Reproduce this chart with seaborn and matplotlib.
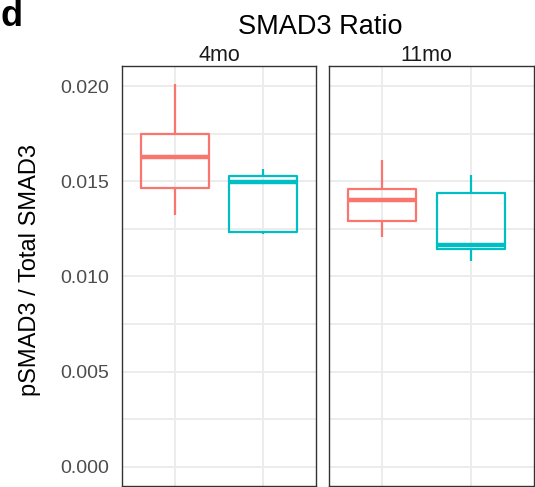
import numpy as np
import pandas as pd
import matplotlib
matplotlib.use("Agg")
import matplotlib.pyplot as plt
import matplotlib.transforms as mtransforms
from matplotlib.ticker import MultipleLocator, FixedLocator
import seaborn as sns

# ---- data (five-number summaries) ----
ages = ["4mo", "11mo"]
genotypes = ["Group 1", "Group 2"]
colors = ["#F8766D", "#00BFC4"]
group1_4mo = [0.01322, 0.01466, 0.01627, 0.01748, 0.02011]
group2_4mo = [0.01224, 0.01234, 0.01497, 0.01525, 0.01562]
group1_11mo = [0.01209, 0.01293, 0.01404, 0.01457, 0.01614]
group2_11mo = [0.01082, 0.01144, 0.01166, 0.01439, 0.01535]
y_ticks = [0.000, 0.005, 0.010, 0.015, 0.020]
y_tick_labels = ["0.000", "0.005", "0.010", "0.015", "0.020"]

values = {
    ("4mo", "Group 1"): group1_4mo,
    ("4mo", "Group 2"): group2_4mo,
    ("11mo", "Group 1"): group1_11mo,
    ("11mo", "Group 2"): group2_11mo,
}
rows = []
for (age, g), vals in values.items():
    for v in vals:
        rows.append({"age": age, "genotype": g, "ratio": v})
df = pd.DataFrame(rows)

sns.set_theme(style="white")
plt.rcParams["font.family"] = ["Liberation Sans", "DejaVu Sans"]

W, H = 535, 487
fig = plt.figure(figsize=(W / 100, H / 100), dpi=100)

def fx(px):
    return px / W

def fy(px):
    return 1 - px / H

panels = [(122, 316), (329, 534)]
top, bottom = 66, 486
xlims = [(-0.6, 1.6), (-0.6, 1.71)]
axes = []
for i, (age, (l, r)) in enumerate(zip(ages, panels)):
    ax = fig.add_axes([fx(l), fy(bottom), fx(r - l), (bottom - top) / H])
    sub = df[df["age"] == age]
    sns.boxplot(data=sub, x="genotype", y="ratio", hue="genotype",
                order=genotypes, hue_order=genotypes, palette=colors,
                saturation=1, fill=False, width=0.77, linewidth=1.6,
                whis=1.5, showcaps=False, showfliers=False, legend=False,
                medianprops={"linewidth": 3.2}, ax=ax)
    ax.set_xlim(*xlims[i])
    ax.set_ylim(-0.001, 0.02105)
    ax.set_xticks([0, 1])
    ax.set_xticklabels([])
    ax.yaxis.set_major_locator(FixedLocator(y_ticks))
    ax.yaxis.set_minor_locator(MultipleLocator(0.0025))
    ax.grid(True, which="major", color="#EBEBEB", linewidth=1.3)
    ax.grid(True, which="minor", axis="y", color="#EBEBEB", linewidth=1.3)
    ax.set_axisbelow(True)
    ax.set_xlabel("")
    ax.set_ylabel("")
    ax.tick_params(axis="both", which="both", length=0)
    if i == 0:
        ax.set_yticklabels(y_tick_labels)
        ax.tick_params(axis="y", labelsize=14, labelcolor="#4D4D4D", pad=9.4)
    else:
        ax.set_yticklabels([])
    for s in ax.spines.values():
        s.set_visible(True)
        s.set_color("#333333")
        s.set_linewidth(1.0)
    trans = mtransforms.blended_transform_factory(ax.transData, fig.transFigure)
    ax.text(0.5, fy(61), age, transform=trans, ha="center", va="baseline",
            fontsize=15.5, color="#1A1A1A")
    axes.append(ax)

fig.text(fx(320), fy(34), "SMAD3 Ratio", ha="center", va="baseline",
         fontsize=19.5, color="black")
fig.text(fx(36), fy(270), "pSMAD3 / Total SMAD3", rotation=90,
         rotation_mode="anchor", ha="center", va="baseline",
         fontsize=17, color="black")
fig.text(fx(0.5), fy(26), "d", ha="left", va="baseline",
         fontsize=26, fontweight="bold", color="black")

fig.savefig("out.png", dpi=100)
